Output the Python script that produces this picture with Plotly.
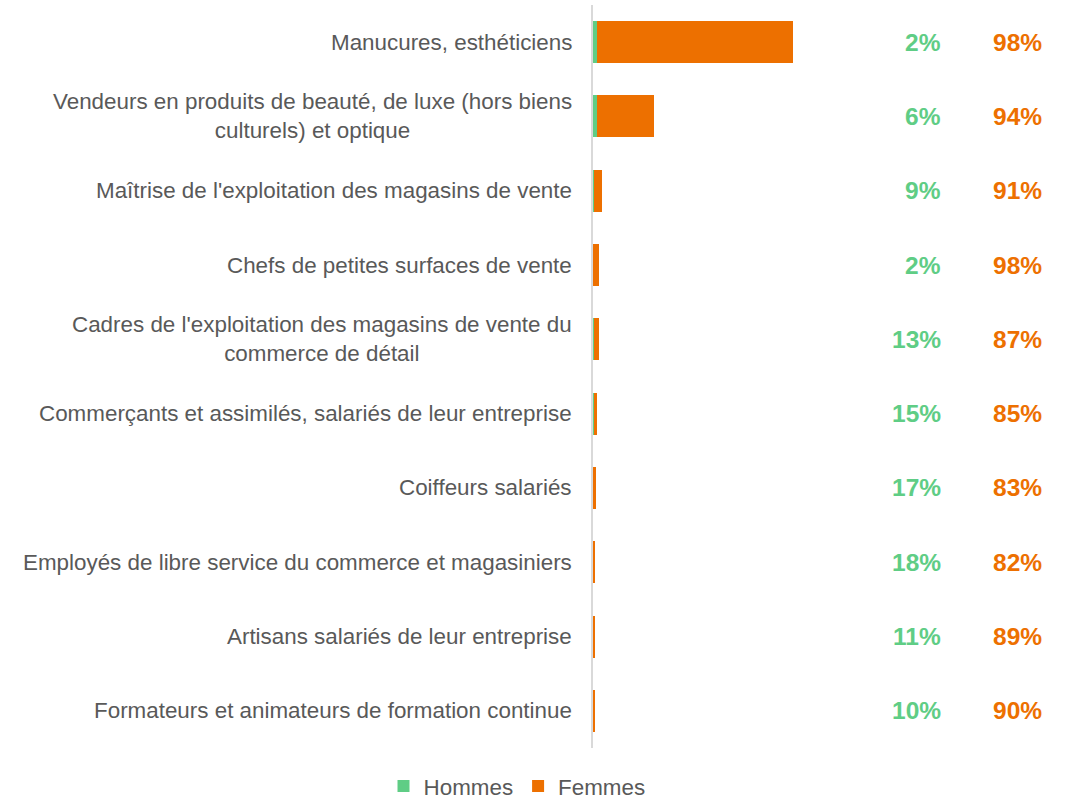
import plotly.graph_objects as go

categories = [
    "Manucures, esthéticiens",
    "Vendeurs en produits de beauté, de luxe (hors biens<br>culturels) et optique",
    "Maîtrise de l'exploitation des magasins de vente",
    "Chefs de petites surfaces de vente",
    "Cadres de l'exploitation des magasins de vente du<br>commerce de détail",
    "Commerçants et assimilés, salariés de leur entreprise",
    "Coiffeurs salariés",
    "Employés de libre service du commerce et magasiniers",
    "Artisans salariés de leur entreprise",
    "Formateurs et animateurs de formation continue",
]
hommes = [400, 360, 77, 11, 73, 60, 46, 27, 15, 14]
femmes = [19600, 5700, 783, 549, 487, 340, 224, 123, 125, 126]
pct_hommes = ["2%", "6%", "9%", "2%", "13%", "15%", "17%", "18%", "11%", "10%"]
pct_femmes = ["98%", "94%", "91%", "98%", "87%", "85%", "83%", "82%", "89%", "90%"]

GREEN = "#5FCD85"
ORANGE = "#ED7000"
GREY = "#595959"
FONT = "Liberation Sans, Arial, sans-serif"

fig = go.Figure()
fig.add_trace(go.Bar(y=categories, x=hommes, name="Hommes", orientation="h",
                     marker=dict(color=GREEN, line=dict(width=0))))
fig.add_trace(go.Bar(y=categories, x=femmes, name="Femmes", orientation="h",
                     marker=dict(color=ORANGE, line=dict(width=0))))

annotations = []
for cat in categories:
    annotations.append(dict(xref="paper", yref="y", x=0, y=cat, xshift=-19,
                            xanchor="right", yanchor="middle", align="center",
                            text=cat, showarrow=False,
                            font=dict(family=FONT, size=22.4, color=GREY)))
for cat, ph, pf in zip(categories, pct_hommes, pct_femmes):
    annotations.append(dict(xref="paper", yref="y", x=0.7656, y=cat,
                            xanchor="right", yanchor="middle", text="<b>" + ph + "</b>",
                            showarrow=False, font=dict(family=FONT, size=24.5, color=GREEN)))
    annotations.append(dict(xref="paper", yref="y", x=0.9864, y=cat,
                            xanchor="right", yanchor="middle", text="<b>" + pf + "</b>",
                            showarrow=False, font=dict(family=FONT, size=24.5, color=ORANGE)))

fig.update_layout(
    barmode="stack",
    bargap=0.435,
    width=1066, height=808,
    margin=dict(l=593, r=16, t=5, b=60),
    paper_bgcolor="white", plot_bgcolor="white",
    font=dict(family=FONT, size=22, color=GREY),
    xaxis=dict(range=[0, 45700], showgrid=False, zeroline=False, showticklabels=False,
               showline=False),
    yaxis=dict(autorange="reversed", showgrid=False, zeroline=False, showticklabels=False,
               showline=True, linecolor="#D9D9D9", linewidth=1.5, ticks=""),
    legend=dict(orientation="h", xref="container", x=0.485, xanchor="center",
                yref="container", y=0, yanchor="bottom",
                font=dict(family=FONT, size=22.4, color=GREY), traceorder="normal"),
    annotations=annotations,
    showlegend=True,
)

fig.write_html("out.html", config={"displayModeBar": False},
               post_script="document.body.style.margin='0';")
